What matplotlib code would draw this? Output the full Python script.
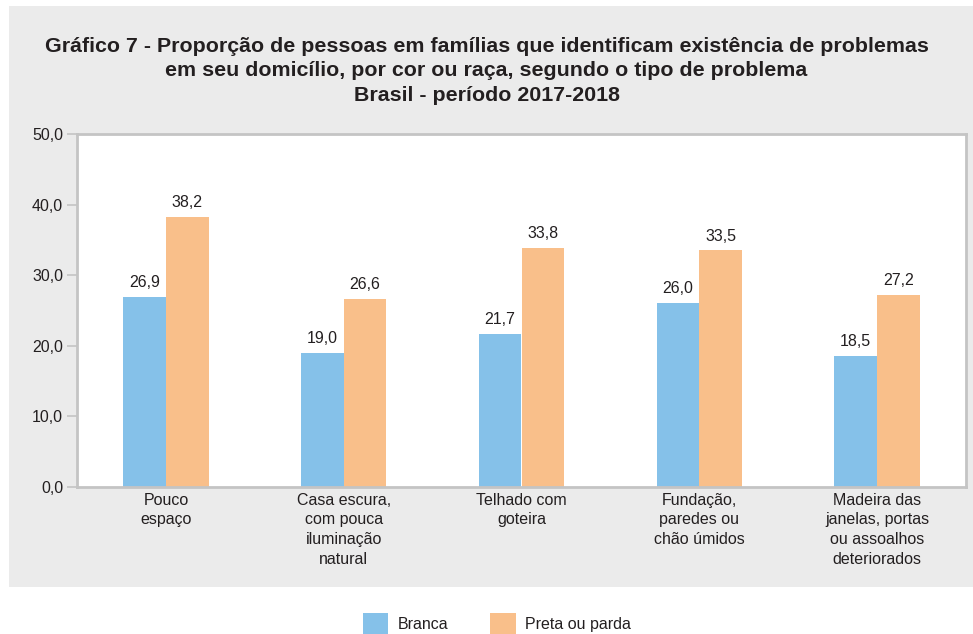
import matplotlib
matplotlib.use("Agg")
import matplotlib.pyplot as plt
import numpy as np
from matplotlib import font_manager
from matplotlib.patches import Rectangle, Patch

categories = ["Pouco\nespaço", "Casa escura,\ncom pouca\niluminação\nnatural",
              "Telhado com\ngoteira", "Fundação,\nparedes ou\nchão úmidos",
              "Madeira das\njanelas, portas\nou assoalhos\ndeteriorados"]
branca = [26.9, 19.0, 21.7, 26.0, 18.5]
preta = [38.2, 26.6, 33.8, 33.5, 27.2]
series_names = ["Branca", "Preta ou parda"]
yticks = [0, 10, 20, 30, 40, 50]

names = {f.name for f in font_manager.fontManager.ttflist}
title_font = "Liberation Sans Narrow" if "Liberation Sans Narrow" in names else "Liberation Sans"
body_font = "Liberation Sans"

blue = "#85c1e9"
orange = "#f9bf8a"
txt = "#231f20"
grey_bg = "#ebebeb"
spine = "#c4c4c4"
fs = 11.5

fig = plt.figure(figsize=(9.73, 6.34), dpi=100)
fig.patch.set_facecolor("white")
W, H = 973, 634
fig.patches.append(Rectangle((9 / W, 1 - 587 / H), 1 - 9 / W, (587 - 6) / H,
                             transform=fig.transFigure, facecolor=grey_bg,
                             edgecolor="none", zorder=-10))

ax = fig.add_axes([77 / W, 1 - 487 / H, (966 - 77) / W, (487 - 134) / H])
ax.set_zorder(5)
ax.set_facecolor("white")
x = np.arange(len(categories))
bw = 0.24
ax.bar(x - bw / 2, branca, bw, color=blue, zorder=2)
ax.bar(x + bw / 2, preta, bw, color=orange, zorder=2)
for xi, v in zip(x, branca):
    ax.annotate(f"{v:.1f}".replace(".", ","), (xi - bw / 2, v), xytext=(0, 5),
                textcoords="offset points", ha="center", va="bottom",
                fontsize=fs, color=txt, family=body_font)
for xi, v in zip(x, preta):
    ax.annotate(f"{v:.1f}".replace(".", ","), (xi + bw / 2, v), xytext=(0, 5),
                textcoords="offset points", ha="center", va="bottom",
                fontsize=fs, color=txt, family=body_font)

ax.set_xlim(-0.5, len(categories) - 0.5)
ax.set_ylim(0, 50)
ax.set_yticks(yticks)
ax.set_yticklabels([f"{t:.1f}".replace(".", ",") for t in yticks],
                   fontsize=fs, color=txt, family=body_font)
ax.set_xticks(x)
ax.set_xticklabels(categories, fontsize=fs, color=txt, family=body_font,
                   linespacing=1.4)
ax.tick_params(axis="x", length=0, pad=4)
ax.tick_params(axis="y", length=7, color=spine, width=1.2, pad=3)
for s in ax.spines.values():
    s.set_color(spine)
    s.set_linewidth(2)

fig.text(0.5, 1 - 71 / H, "Gráfico 7 - Proporção de pessoas em famílias que identificam existência de problemas\n"
         "em seu domicílio, por cor ou raça, segundo o tipo de problema\n"
         "Brasil - período 2017-2018",
         ha="center", va="center", fontsize=15.4, fontweight="bold", color=txt,
         family=title_font, linespacing=1.36)

handles = [Patch(facecolor=blue, edgecolor="none"), Patch(facecolor=orange, edgecolor="none")]
fig.legend(handles, series_names, loc="center", bbox_to_anchor=(497 / W, 1 - 624 / H),
           ncol=2, frameon=False, handlelength=1.6, handleheight=1.7,
           columnspacing=2.6, handletextpad=0.6,
           prop={"family": body_font, "size": fs})
for t in fig.legends[0].get_texts():
    t.set_color(txt)

fig.savefig("out.png", dpi=100)
